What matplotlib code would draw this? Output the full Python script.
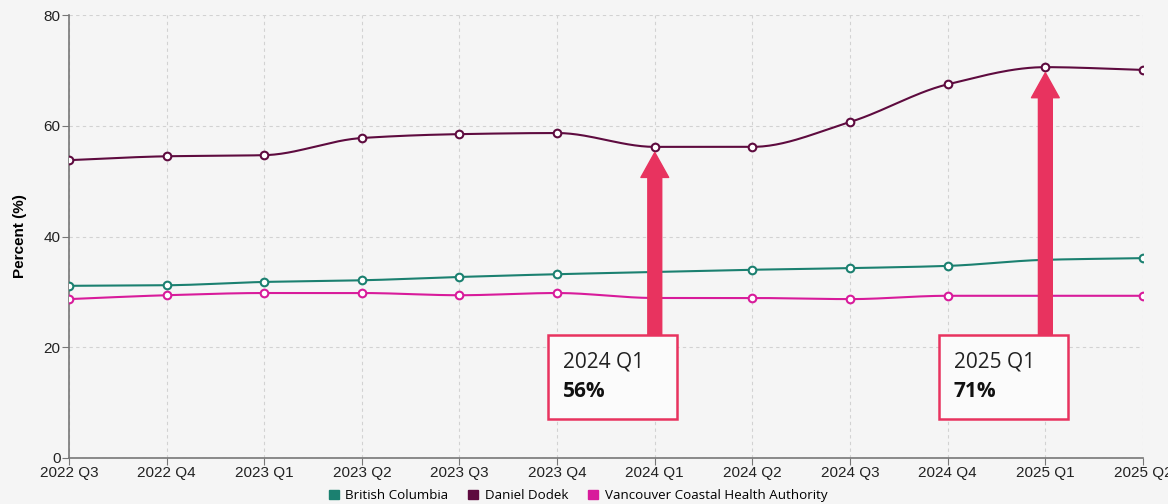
import numpy as np
import matplotlib.pyplot as plt
from matplotlib.patches import Rectangle, FancyArrowPatch, Patch

# Data
quarters = ['2022 Q3', '2022 Q4', '2023 Q1', '2023 Q2', '2023 Q3', '2023 Q4',
            '2024 Q1', '2024 Q2', '2024 Q3', '2024 Q4', '2025 Q1', '2025 Q2']
british_columbia = [31.1, 31.2, 31.8, 32.1, 32.7, 33.2, 33.6, 34.0, 34.3, 34.7, 35.8, 36.1]
daniel_dodek = [53.8, 54.5, 54.7, 57.8, 58.5, 58.7, 56.2, 56.2, 60.7, 67.5, 70.6, 70.1]
vancouver_coastal = [28.7, 29.4, 29.8, 29.8, 29.4, 29.8, 28.9, 28.9, 28.7, 29.3, 29.3, 29.3]

series_names = ['British Columbia', 'Daniel Dodek', 'Vancouver Coastal Health Authority']
series_colors = ['#1b8070', '#5e0b3f', '#d81b9b']

# callouts: (quarter index, label, value text)
callouts = [(6, '2024 Q1', '56%'), (10, '2025 Q1', '71%')]

ACCENT = '#e8335f'
BG = '#f5f5f5'


def monotone_curve(x, y, n=30):
    # monotone cubic (Fritsch-Carlson) for a smooth line through the points
    x = np.asarray(x, float)
    y = np.asarray(y, float)
    h = np.diff(x)
    d = np.diff(y) / h
    m = np.zeros_like(y)
    m[0], m[-1] = d[0], d[-1]
    for i in range(1, len(y) - 1):
        if d[i - 1] * d[i] <= 0:
            m[i] = 0
        else:
            w1 = 2 * h[i] + h[i - 1]
            w2 = h[i] + 2 * h[i - 1]
            m[i] = (w1 + w2) / (w1 / d[i - 1] + w2 / d[i])
    xs, ys = [], []
    for i in range(len(x) - 1):
        t = np.linspace(0, 1, n)
        h00 = 2 * t**3 - 3 * t**2 + 1
        h10 = t**3 - 2 * t**2 + t
        h01 = -2 * t**3 + 3 * t**2
        h11 = t**3 - t**2
        xs.append(x[i] + t * h[i])
        ys.append(h00 * y[i] + h10 * h[i] * m[i] + h01 * y[i + 1] + h11 * h[i] * m[i + 1])
    return np.concatenate(xs), np.concatenate(ys)


fig = plt.figure(figsize=(11.68, 5.04), dpi=100, facecolor=BG)
ax = fig.add_axes([0.059, 0.0913, 0.9196, 0.8787], facecolor=BG)

xpos = np.arange(len(quarters))
for vals, name, col in zip([british_columbia, daniel_dodek, vancouver_coastal],
                           series_names, series_colors):
    sx, sy = monotone_curve(xpos, vals)
    ax.plot(sx, sy, color=col, lw=1.5, zorder=3)
    ax.plot(xpos, vals, ls='none', marker='o', ms=5.5, mfc='white',
            mec=col, mew=1.5, zorder=4)

ax.set_xlim(0, len(quarters) - 1)
ax.set_ylim(0, 80)
ax.set_xticks(xpos)
ax.set_xticklabels(quarters, fontsize=11, family='Liberation Sans', color='#222222')
ax.set_yticks([0, 20, 40, 60, 80])
ax.set_yticklabels(['0', '20', '40', '60', '80'], fontsize=11,
                   family='Liberation Sans', color='#222222')
ax.tick_params(axis='both', length=5, color='#777777', pad=1)
ax.grid(True, ls=(0, (3, 3)), color='#d2d2d2', lw=0.8, zorder=0)
for s in ['top', 'right']:
    ax.spines[s].set_visible(False)
for s in ['left', 'bottom']:
    ax.spines[s].set_color('#777777')
    ax.spines[s].set_linewidth(1.2)
ax.set_ylabel('Percent (%)', fontsize=11, fontweight='bold',
              family='Liberation Sans', labelpad=12)

# callout boxes with arrows
for idx, qlabel, vtext in callouts:
    val = daniel_dodek[idx]
    left = idx - 1.09
    bottom, top = 7.1, 22.2
    arr = FancyArrowPatch((idx, top), (idx, val), mutation_scale=1,
                          arrowstyle='simple,head_length=18,head_width=20,tail_width=10',
                          color=ACCENT, shrinkA=0, shrinkB=4, zorder=5)
    ax.add_patch(arr)
    ax.add_patch(Rectangle((left, bottom), 1.32, top - bottom, facecolor='#fbfbfb',
                           edgecolor=ACCENT, lw=1.8, zorder=6))
    ax.text(left + 0.15, bottom + 0.68 * (top - bottom), qlabel, fontsize=15,
            family='Open Sans', color='#222222', va='center', ha='left', zorder=7)
    ax.text(left + 0.15, bottom + 0.33 * (top - bottom), vtext, fontsize=15,
            family='Open Sans', fontweight='bold', color='#111111',
            va='center', ha='left', zorder=7)

handles = [Patch(facecolor=c, edgecolor=c) for c in series_colors]
fig.legend(handles, series_names, loc='lower center', bbox_to_anchor=(0.495, -0.02),
           ncol=3, frameon=False, handlelength=0.75, handleheight=0.75,
           handletextpad=0.5, columnspacing=1.5, prop={'family': 'Open Sans', 'size': 9.6})

fig.savefig('out.png', dpi=100, facecolor=BG)
